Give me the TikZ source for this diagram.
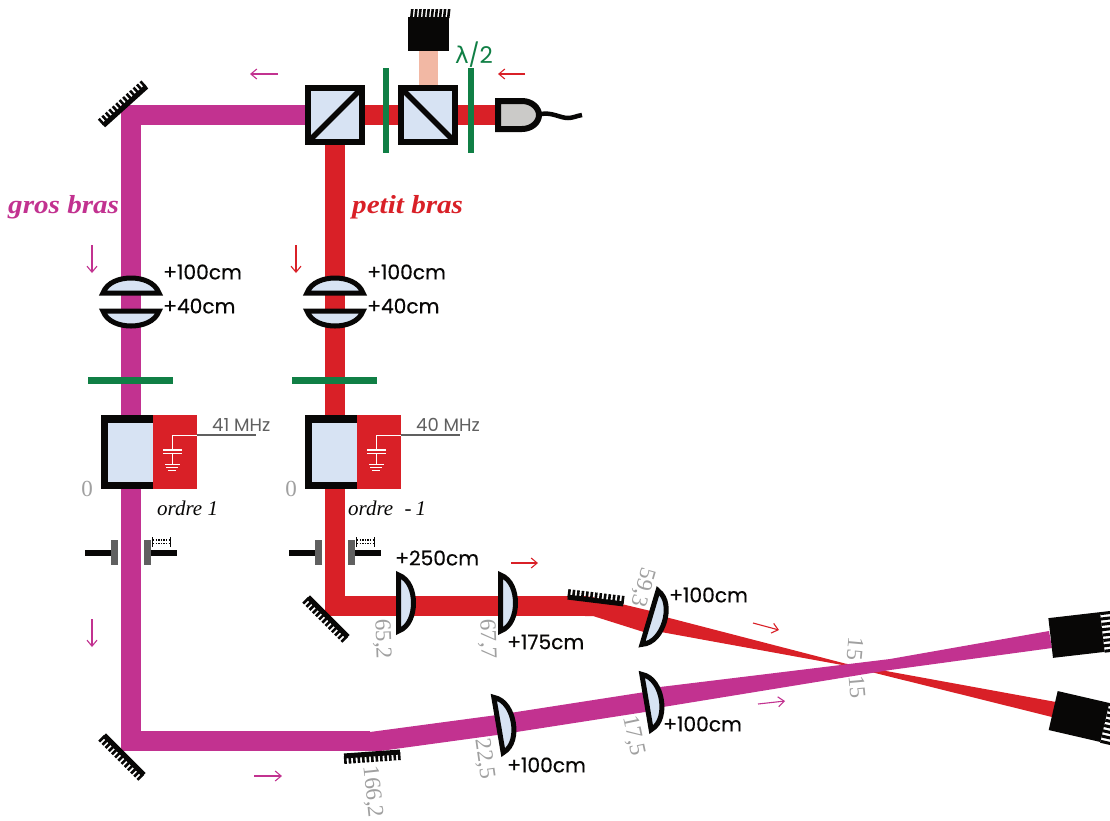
\documentclass[tikz,border=0pt]{standalone}
\usepackage{fontspec}
\setmainfont{Poppins}
\newfontfamily\labf[FakeBold=0.3]{Poppins}
\newfontfamily\grk{DejaVu Sans}
\newfontfamily\serifit[ItalicFont={Liberation Serif Italic}]{Liberation Serif}
\newfontfamily\armf[FakeStretch=1.12]{Liberation Serif Bold Italic}
\usetikzlibrary{arrows.meta}
\definecolor{mag}{HTML}{C23290}
\definecolor{rd}{HTML}{D92027}
\definecolor{pk}{HTML}{F2B8A4}
\definecolor{gl}{HTML}{D7E3F3}
\definecolor{grn}{HTML}{107F45}
\definecolor{gt}{HTML}{A0A0A0}
\definecolor{dg}{HTML}{606060}
\definecolor{blk}{HTML}{080706}
\definecolor{cpl}{HTML}{CBCAC8}
\tikzset{
 lab/.style={inner sep=0pt,font=\labf\fontsize{20.2}{22}\selectfont,text=blk},
 num/.style={inner sep=0pt,font=\serifit\fontsize{23}{25}\selectfont,text=gt},
 ord/.style={inner sep=0pt,font=\serifit\itshape\fontsize{21}{24}\selectfont,text=blk},
 arm/.style={inner sep=0pt,font=\armf\fontsize{26}{28}\selectfont},
 mhz/.style={inner sep=0pt,font=\fontsize{18}{20}\selectfont,text=dg},
 beam/.style={line width=20pt},
 plate/.style={line width=6.5pt,grn},
 arr/.style={-{Straight Barb[length=6pt,width=10pt]},line width=1.1pt},
 cube/.style={fill=gl,minimum size=54pt,inner sep=0pt,outer sep=0pt},
 frame/.style={draw=blk,line width=6pt},
}
% lens: flat side centred on the point, bulging along local +x
\newcommand{\lensat}[3]{\begin{scope}[shift={(#1,#2)},rotate=#3]
 \draw[blk,line width=5pt,fill=gl,line join=miter] (0,-28) .. controls (11,-24) and (15,-11) .. (15,0) .. controls (15,11) and (11,24) .. (0,28) -- cycle;
\end{scope}}
% mirror: bar centred on the point, along local x, teeth toward local -y (up)
\newcommand{\mirrorat}[4]{\begin{scope}[shift={(#1,#2)},rotate=#3]
 \fill[blk] (-#4,-2.5) rectangle (#4,2.5);
 \foreach \t in {-6,...,6}{\fill[blk] ({\t/6*(#4-1)-1.3},-8) rectangle ({\t/6*(#4-1)+1.3},0);}
\end{scope}}
\newcommand{\shutter}[1]{\begin{scope}[xshift=#1pt]
 \fill[blk] (85,550) rectangle (111,556);
 \fill[dg] (111,540) rectangle (118,565);
 \fill[dg] (144,540) rectangle (151,565);
 \fill[blk] (151,550) rectangle (177,556);
 \draw[blk,line width=1pt] (152,537) -- (152,546.5) (170,537) -- (170,546.5);
 \draw[blk,line width=1.3pt,dash pattern=on 1.4pt off 1.2pt] (153,540) -- (170,540) (153,543.5) -- (170,543.5);
\end{scope}}
\newcommand{\aom}[1]{\begin{scope}[xshift=#1pt]
 \fill[blk] (101,415) rectangle (153,489);
 \fill[gl] (108,423) rectangle (153,482);
 \fill[rd] (153,415) rectangle (197,489);
 \draw[white,line width=.8pt] (197,435) -- (172,435) -- (172,450);
 \draw[white,line width=1.4pt] (163,450) -- (182,450) (163,453.5) -- (182,453.5);
 \draw[white,line width=.8pt] (172,453.5) -- (172,464);
 \draw[white,line width=1pt] (165,464) -- (180,464) (166,467.5) -- (178,467.5) (168,470.5) -- (176,470.5);
 \draw[dg,line width=1.3pt] (197,435) -- (256,435);
\end{scope}}
\begin{document}
\begin{tikzpicture}[x=1pt,y=-1pt]
\useasboundingbox (0,0) rectangle (1110,820);
\fill[white] (0,0) rectangle (1110,820);
% red beam
\draw[beam,rd,line join=miter] (335,140) -- (335,606) -- (585,606);
\draw[beam,rd] (360,115) -- (500,115);
\fill[rd] (585,596) -- (592,597) -- (655,612) -- (650,634) -- (593,616) -- (585,616) -- cycle;
\fill[rd] (650,613) -- (845,663.5) -- (1056,702) -- (1052,717) -- (845,665.5) -- (650,630) -- cycle;
% pink beam
\fill[pk] (419,50) rectangle (438,86);
% magenta beam
\draw[beam,mag,line join=miter] (310,115) -- (131,115) -- (131,741) -- (370,741);
\fill[mag] (365,731) -- (370,732) -- (497,715) -- (645,692) -- (660,687) -- (890,659) -- (1049,631) -- (1052,648) -- (890,670) -- (663,707) -- (645,712) -- (497,735) -- (380,751) -- (365,751) -- cycle;
% mirrors
\mirrorat{125}{106}{42}{29}
\mirrorat{124}{755}{135}{28}
\mirrorat{328}{617}{135}{28}
\mirrorat{595.5}{600.5}{-7}{28}
\mirrorat{372}{754}{184}{28}
% detectors
\node[fill=blk,minimum width=41pt,minimum height=34pt,inner sep=0pt] (d1) at (428.5,34) {};
\foreach \t in {0,...,9}{\fill[blk] ({410+\t*4.1},18) -- ({410+\t*4.1+2.6},18) -- ({411+\t*4.1+2.6},9) -- ({410+\t*4.1+1},9) -- cycle;}
\begin{scope}[shift={(1076.5,635)},rotate=6.6]
 \fill[blk] (-26,-20) rectangle (26,20);
 \foreach \t in {0,...,7}{\fill[blk] (26,{-20+\t*5.4}) rectangle (38,{-17+\t*5.4});}
\end{scope}
\begin{scope}[shift={(1079,716.5)},rotate=-13]
 \fill[blk] (-26.5,-20) rectangle (26.5,20);
 \foreach \t in {0,...,7}{\fill[blk] (26.5,{-20+\t*5.4}) rectangle (38,{-17+\t*5.4});}
\end{scope}
% cubes
\node[cube] (c1) at (335,115) {};
\draw[blk,line width=5.5pt] (c1.south west) -- (c1.north east);
\draw[frame] (c1.south west) rectangle (c1.north east);
\node[cube] (c2) at (428,115) {};
\draw[blk,line width=5.5pt] (c2.north west) -- (c2.south east);
\draw[frame] (c2.south west) rectangle (c2.north east);
% half wave plates
\draw[plate] (386,68) -- (386,153);
\draw[plate] (471,68) -- (471,153);
\draw[plate] (88,380.5) -- (173,380.5);
\draw[plate] (292,380.5) -- (377,380.5);
% coupler
\draw[blk,line width=6pt,fill=cpl] (498,101) -- (522,101) .. controls (532,101) and (539,108) .. (539,115) .. controls (539,122) and (532,129) .. (522,129) -- (498,129) -- cycle;
\draw[blk,line width=4.5pt] (541,114) .. controls (552,112) and (560,118) .. (568,118) .. controls (573,118) and (576,116) .. (582,115);
% lenses
\lensat{131}{293}{90}
\lensat{131}{311}{-90}
\lensat{335}{293}{90}
\lensat{335}{311}{-90}
\lensat{398.5}{603}{0}
\lensat{500.5}{603}{0}
\lensat{650}{617.5}{-16.6}
\lensat{498.5}{725}{9.6}
\lensat{646.5}{702}{9.6}
% AOMs, shutters
\aom{0}
\aom{204}
\shutter{0}
\shutter{204}
% texts
\node[lab,anchor=west] (t1) at (163,272) {+100cm};
\node[lab,anchor=west] (t2) at (163,306) {+40cm};
\node[lab,anchor=west] (t3) at (367,272) {+100cm};
\node[lab,anchor=west] (t4) at (367,306) {+40cm};
\node[lab,anchor=west] (t5) at (395,558) {+250cm};
\node[lab,anchor=west] (t6) at (507,642) {+175cm};
\node[lab,anchor=west] (t7) at (669,595) {+100cm};
\node[lab,anchor=west] (t8) at (663,724) {+100cm};
\node[lab,anchor=west] (t9) at (507,765) {+100cm};
\node[inner sep=0pt,font=\fontsize{23}{26}\selectfont,text=grn] (t10) at (474,55) {{\grk λ}/2};
\node[mhz,anchor=west] (m1) at (212,425) {41 MHz};
\node[mhz,anchor=west] (m2) at (416,425) {40 MHz};
\node[arm,text=mag,anchor=west] (a1) at (8,207) {gros bras};
\node[arm,text=rd,anchor=west] (a2) at (352,207) {petit bras};
\node[ord,anchor=west] (o1) at (157,508) {ordre 1};
\node[ord,anchor=west] (o2) at (348,508) {ordre\hspace{6pt} -\hspace{4pt}1};
\node[num] (n1) at (87,489) {0};
\node[num] (n2) at (291,489) {0};
\node[num,rotate=-88] (n3) at (382,639) {65,2};
\node[num,rotate=-88] (n4) at (487,639) {67,7};
\node[num,rotate=-106] (n5) at (642,587) {59,3};
\node[num,rotate=-78] (n6) at (633,736) {17,5};
\node[num,rotate=-82] (n7) at (484,759) {22,5};
\node[num,rotate=-84] (n8) at (372,792) {166,2};
\node[num,rotate=-95] (n9) at (855,649) {15};
\node[num,rotate=-85] (n10) at (857,687) {15};
% arrows
\coordinate (p1a) at (278,74); \coordinate (p1b) at (250,74);
\draw[arr,mag] (p1a) -- (p1b);
\coordinate (r1a) at (525,74); \coordinate (r1b) at (498,74);
\draw[arr,rd] (r1a) -- (r1b);
\coordinate (p2a) at (92,245); \coordinate (p2b) at (92,273);
\draw[arr,mag] (p2a) -- (p2b);
\coordinate (r2a) at (296,245); \coordinate (r2b) at (296,273);
\draw[arr,rd] (r2a) -- (r2b);
\coordinate (p3a) at (92,619); \coordinate (p3b) at (92,647);
\draw[arr,mag] (p3a) -- (p3b);
\coordinate (r3a) at (511,563); \coordinate (r3b) at (538,563);
\draw[arr,rd] (r3a) -- (r3b);
\coordinate (r4a) at (753,623); \coordinate (r4b) at (779,630);
\draw[arr,rd] (r4a) -- (r4b);
\coordinate (p4a) at (758,704); \coordinate (p4b) at (785,701);
\draw[arr,mag] (p4a) -- (p4b);
\coordinate (p5a) at (254,776); \coordinate (p5b) at (282,776);
\draw[arr,mag] (p5a) -- (p5b);
\end{tikzpicture}
\end{document}
